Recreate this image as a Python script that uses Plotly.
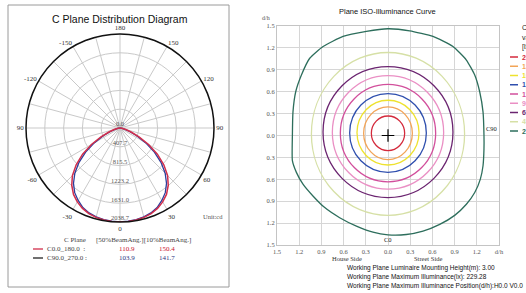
import plotly.graph_objects as go

W, H = 526, 293

# ---------------- C-plane luminous intensity (cd) ----------------
gamma = [0, 5, 10, 15, 20, 25, 30, 35, 40, 45, 50, 55, 60, 65, 70, 75, 80, 85, 90]
i_c0_180 = [2036, 2034, 2024, 2006, 1975, 1925, 1852, 1758, 1628, 1460, 1240, 990, 715, 455, 255, 130, 60, 20, 0]
i_c90_270 = [2036, 2030, 2016, 1994, 1960, 1905, 1815, 1712, 1570, 1385, 1160, 910, 645, 400, 220, 110, 50, 15, 0]

radial_ticks = [0, 407.7, 815.5, 1223.2, 1631.0, 2038.7]
radial_labels = ["0.0", "407.7", "815.5", "1223.2", "1631.0", "2038.7"]
ang_label_map = {0: "0", 30: "30", 60: "60", 90: "90", 120: "120", 150: "150", 180: "180",
                 210: "-150", 240: "-120", 270: "90", 300: "-60", 330: "-30"}

plane_names = ["C0.0_180.0  :", "C90.0_270.0 :"]
beam50 = ["110.9", "103.9"]
beam10 = ["150.4", "141.7"]

# ---------------- Plane iso-illuminance (d/h units) ----------------
iso_levels = ["206.35", "183.42", "160.50", "137.57", "114.64", "91.71", "68.78", "45.86", "22.93"]
# inner eight contours read as extents (top, bottom, half-width)
iso_top = [0.267, 0.392, 0.483, 0.575, 0.699, 0.819, 0.943, 1.137]
iso_bottom = [0.207, 0.331, 0.404, 0.505, 0.634, 0.735, 0.850, 1.094]
iso_half_w = [0.225, 0.329, 0.419, 0.518, 0.644, 0.752, 0.878, 1.035]
# outermost contour traced point by point
outer_x = [0.0, 0.293, 0.608, 0.878, 1.059, 1.172, 1.239, 1.284, 1.297, 1.297, 1.284, 1.248, 1.172,
           1.059, 0.901, 0.699, 0.473, 0.248, 0.0, -0.203, -0.427, -0.653, -0.855, -1.014, -1.149,
           -1.238, -1.292, -1.292, -1.284, -1.247, -1.170, -1.058, -0.878, -0.608, -0.292, 0.0]
outer_y = [1.462, 1.434, 1.357, 1.219, 1.034, 0.828, 0.599, 0.323, 0.0, -0.183, -0.414, -0.597, -0.781,
           -0.942, -1.094, -1.218, -1.310, -1.356, -1.360, -1.324, -1.241, -1.126, -0.988, -0.828, -0.666,
           -0.505, -0.345, 0.0, 0.323, 0.599, 0.828, 1.058, 1.219, 1.357, 1.426, 1.462]
grid_vals = [-1.5, -1.2, -0.9, -0.6, -0.3, 0.0, 0.3, 0.6, 0.9, 1.2, 1.5]
x_ticktext = ["1.5", "1.2", "0.9", "0.6", "0.3", "0.0", "0.3", "0.6", "0.9", "1.2", "d/h"]
y_ticktext = ["1.5", "1.2", "0.9", "0.6", "0.3", "0.0", "0.3", "0.6", "0.9", "1.2", "1.5"]
max_pos_x = [0.0]
max_pos_y = [0.0]
info_lines = ["Working Plane Luminaire Mounting Height(m): 3.00",
              "Working Plane Maximum Illuminance(lx): 229.28",
              "Working Plane Maximum Illuminance Position(d/h):H0.0 V0.0"]

iso_colors = ["#d42a3c", "#f2a457", "#eee22e", "#2f4fae", "#d24f9c", "#ea8fc4", "#6b2470", "#d6e0a6", "#2d6e5c"]
red_c, blue_c = "#d12e4b", "#2c3d9c"
SERIF = "Liberation Serif"
SANS = "Liberation Sans"


def px(x):
    return x / W


def py(y):
    return 1 - y / H


fig = go.Figure()

# polar curves
theta = [-g for g in reversed(gamma)] + gamma[1:]
fig.add_trace(go.Scatterpolar(theta=theta, r=list(reversed(i_c90_270)) + i_c90_270[1:],
                              mode="lines", line=dict(color=blue_c, width=1.3), showlegend=False))
fig.add_trace(go.Scatterpolar(theta=theta, r=list(reversed(i_c0_180)) + i_c0_180[1:],
                              mode="lines", line=dict(color=red_c, width=1.5), showlegend=False))
fig.add_trace(go.Scatterpolar(theta=[0] * len(radial_ticks), r=radial_ticks, text=radial_labels,
                              mode="text", textposition="top center",
                              textfont=dict(family=SERIF, size=6.5, color="#555"), showlegend=False))

# iso-illuminance outer contour + max point
fig.add_trace(go.Scatter(x=outer_x, y=outer_y, mode="lines", xaxis="x", yaxis="y",
                         line=dict(color=iso_colors[8], width=1.3, shape="spline", smoothing=0.5),
                         showlegend=False))
fig.add_trace(go.Scatter(x=max_pos_x, y=max_pos_y, mode="markers", xaxis="x", yaxis="y",
                         marker=dict(symbol="cross-thin", size=9, line=dict(color="black", width=1.2)),
                         showlegend=False))

shapes = []
for i in range(len(iso_top)):
    shapes.append(dict(type="circle", xref="x", yref="y", x0=-iso_half_w[i], x1=iso_half_w[i],
                       y0=-iso_bottom[i], y1=iso_top[i], line=dict(color=iso_colors[i], width=1.3)))

# left panel frame
shapes.append(dict(type="rect", xref="paper", yref="paper", x0=px(8), x1=px(229), y0=py(287), y1=py(5),
                   line=dict(color="#9a9a9a", width=1)))

annotations = []


def add_text(x, y, text, size, color="#333", family=SERIF, xanchor="center", xref="paper", yref="paper"):
    annotations.append(dict(x=x, y=y, xref=xref, yref=yref, text=text, showarrow=False,
                            xanchor=xanchor, yanchor="middle",
                            font=dict(family=family, size=size, color=color)))


add_text(px(120), py(19), "C Plane Distribution Diagram", 10.5, "#111", SANS)
add_text(px(213), py(216), "Unit:cd", 6.5, "#555")
add_text(px(75), py(240), "C Plane", 7, "#444")
add_text(px(143), py(240), "[50%BeamAng.][10%BeamAng.]", 7, "#444")
row_y = [249, 258]
line_cols = [red_c, "#222"]
val_cols = ["#c8102e", "#2d3580"]
for k in range(2):
    shapes.append(dict(type="line", xref="paper", yref="paper", x0=px(33), x1=px(43),
                       y0=py(row_y[k]), y1=py(row_y[k]), line=dict(color=line_cols[k], width=1.3)))
    add_text(px(45), py(row_y[k]), plane_names[k], 7, "#444", xanchor="left")
    add_text(px(127), py(row_y[k]), beam50[k], 7, val_cols[k])
    add_text(px(167), py(row_y[k]), beam10[k], 7, val_cols[k])

# right panel texts
add_text(px(387), py(12), "Plane ISO-Illuminance Curve", 7.5, "#111", SANS)
add_text(px(266), py(18.5), "d/h", 6, "#555")
add_text(0.0, -1.43, "C0", 6.5, "#222", xref="x", yref="y")
add_text(1.40, 0.09, "C90", 6.5, "#222", xref="x", yref="y")
add_text(px(347), py(258), "House Side", 6.5, "#333")
add_text(px(428), py(258), "Street Side", 6.5, "#333")
for k, t in enumerate(info_lines):
    add_text(px(345), py(267.5 + 9.3 * k), t, 6.5, "#111", SANS, xanchor="left")

# iso legend (cut off by the page edge like the source)
for k, t in enumerate(["Curve", "value", "[lx]"]):
    add_text(px(520), py(28 + 9.5 * k), t, 7, "#222", SANS, xanchor="left")
for k, lvl in enumerate(iso_levels):
    yy = 57 + 9.25 * k
    shapes.append(dict(type="line", xref="paper", yref="paper", x0=px(510), x1=px(518),
                       y0=py(yy), y1=py(yy), line=dict(color=iso_colors[k], width=1.5)))
    add_text(px(520), py(yy), "<b>" + lvl + "</b>", 7, iso_colors[k], SANS, xanchor="left")

axis_common = dict(range=[-1.5, 1.5], tickvals=grid_vals, showgrid=True, gridcolor="#d6d6d6",
                   gridwidth=1, zeroline=False, showline=True, linecolor="#c4c4c4", mirror=True,
                   ticks="", tickfont=dict(family=SERIF, size=6.5, color="#555"), fixedrange=True)

fig.update_layout(
    width=W, height=H, margin=dict(l=0, r=0, t=0, b=0, autoexpand=False),
    paper_bgcolor="white", plot_bgcolor="white", showlegend=False,
    polar=dict(
        domain=dict(x=[px(26), px(214)], y=[py(222), py(34)]),
        bgcolor="white",
        angularaxis=dict(rotation=270, direction="counterclockwise",
                         tickvals=list(range(0, 360, 15)),
                         ticktext=[ang_label_map.get(v, "") for v in range(0, 360, 15)],
                         showgrid=True, gridcolor="#c9c9c9", gridwidth=1,
                         showline=True, linecolor="#111", linewidth=1.5, ticks="",
                         tickfont=dict(family=SERIF, size=7, color="#333")),
        radialaxis=dict(range=[0, 2038.7], tickvals=radial_ticks[1:], showticklabels=False,
                        showgrid=True, gridcolor="#c9c9c9", gridwidth=1, showline=False, ticks=""),
    ),
    xaxis=dict(domain=[px(277), px(499)], ticktext=x_ticktext, anchor="y", **axis_common),
    yaxis=dict(domain=[py(245), py(26)], ticktext=y_ticktext, anchor="x", **axis_common),
    shapes=shapes, annotations=annotations,
)

fig.write_html("out.html", config={"displayModeBar": False, "staticPlot": True},
               post_script="document.body.style.margin='0px';"
                           "document.body.style.overflow='hidden';")
